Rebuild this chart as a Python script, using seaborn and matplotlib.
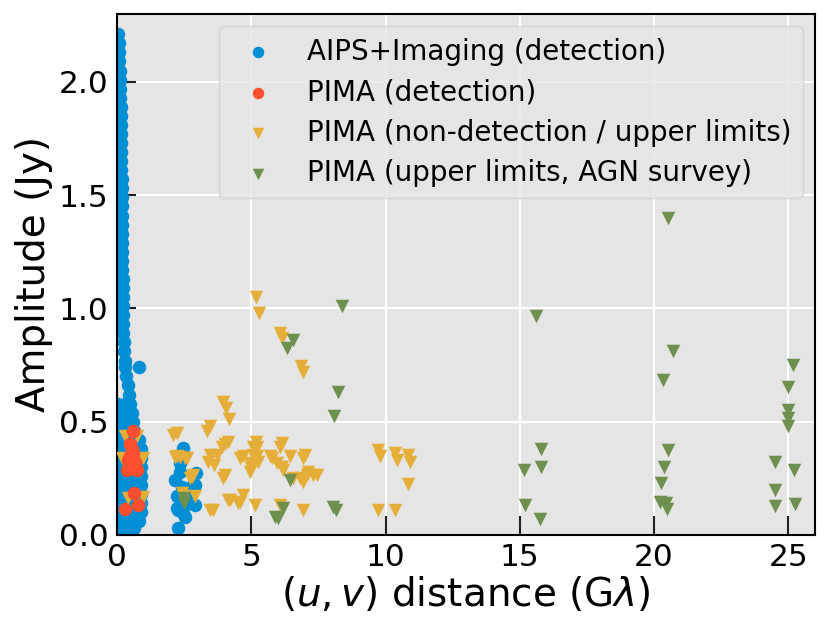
import matplotlib
matplotlib.use("Agg")
import matplotlib.pyplot as plt
import seaborn as sns

# ---------------- data ----------------
aips_x = [0.05, 0.07, 0.08, 0.09, 0.10, 0.11, 0.12, 0.12, 0.13, 0.13, 0.14, 0.14,
          0.15, 0.15, 0.16, 0.16, 0.17, 0.17, 0.18, 0.18, 0.18, 0.19, 0.19, 0.19,
          0.20, 0.20, 0.20, 0.21, 0.21, 0.21, 0.21, 0.22, 0.23, 0.24, 0.25, 0.26,
          0.28, 0.82, 0.30, 0.35, 0.40, 0.45,
          0.05, 0.30, 0.50, 0.05, 0.30, 0.55, 0.05, 0.30, 0.60, 0.05, 0.30, 0.65,
          0.05, 0.30, 0.55, 0.80, 0.05, 0.30, 0.55, 0.88, 0.05, 0.30, 0.55, 0.88,
          0.05, 0.30, 0.55, 0.88, 0.05, 0.30, 0.55, 0.88, 0.05, 0.30, 0.55, 0.88,
          0.05, 0.30, 0.55, 0.88, 0.05, 0.30, 0.55, 0.88, 0.05, 0.30, 0.55, 0.88,
          0.05, 0.30, 0.55, 0.82, 0.10, 0.40, 0.65,
          2.47, 2.35, 2.16, 2.96, 2.90, 2.22, 2.22, 2.90, 2.53, 2.28, 2.41, 2.35,
          2.27, 2.72, 2.70, 2.47, 2.83]
aips_y = [2.21, 2.17, 2.13, 2.09, 2.05, 2.01, 1.97, 1.93, 1.89, 1.85, 1.81, 1.77,
          1.73, 1.69, 1.65, 1.61, 1.57, 1.53, 1.49, 1.45, 1.41, 1.37, 1.33, 1.29,
          1.25, 1.21, 1.17, 1.13, 1.09, 1.05, 1.01, 0.97, 0.93, 0.89, 0.85, 0.81,
          0.77, 0.74, 0.74, 0.70, 0.66, 0.62,
          0.58, 0.58, 0.58, 0.54, 0.54, 0.54, 0.50, 0.50, 0.50, 0.46, 0.46, 0.46,
          0.42, 0.42, 0.42, 0.42, 0.38, 0.38, 0.38, 0.38, 0.34, 0.34, 0.34, 0.34,
          0.30, 0.30, 0.30, 0.30, 0.26, 0.26, 0.26, 0.26, 0.22, 0.22, 0.22, 0.22,
          0.18, 0.18, 0.18, 0.18, 0.14, 0.14, 0.14, 0.14, 0.10, 0.10, 0.10, 0.10,
          0.06, 0.06, 0.06, 0.06, 0.03, 0.03, 0.03,
          0.383, 0.28, 0.243, 0.273, 0.22, 0.17, 0.118, 0.133, 0.081, 0.03, 0.214, 0.318,
          0.11, 0.17, 0.14, 0.096, 0.22]

pima_det_x = [0.58, 0.48, 0.61, 0.42, 0.67, 0.36, 0.76, 0.63, 0.30, 0.79, 0.55, 0.55, 0.50]
pima_det_y = [0.457, 0.40, 0.362, 0.332, 0.324, 0.288, 0.288, 0.187, 0.114, 0.133, 0.38, 0.31, 0.35]

pima_ul_x = [5.17, 5.30, 6.07, 6.15, 6.87, 6.93, 3.96, 4.06, 4.17, 3.46, 3.34, 2.22, 2.09,
             0.30, 0.73, 4.02, 4.13, 3.90, 5.16, 5.20, 5.05, 6.13, 6.07,
             0.17, 0.98, 2.22, 2.35, 2.60, 3.46, 3.71, 3.39, 3.60, 4.70, 5.07, 5.20,
             5.26, 5.00, 4.96, 5.69, 5.94, 6.13, 6.20, 7.00, 6.93, 6.56, 6.80, 7.06,
             7.30, 6.93, 7.10, 7.45, 4.02, 3.96, 2.83, 2.72, 4.96, 4.58, 5.76, 6.44,
             2.16, 2.53, 2.78,
             0.41, 0.97, 2.41, 2.46, 2.90, 4.13, 4.58, 4.70, 5.14, 3.58, 3.45, 6.07,
             6.93, 4.20, 4.50,
             9.72, 9.79, 10.35, 10.41, 10.83, 10.90, 10.83, 9.72, 10.35]
pima_ul_y = [1.05, 0.98, 0.89, 0.87, 0.745, 0.72, 0.585, 0.56, 0.513, 0.48, 0.46, 0.45, 0.443,
             0.435, 0.435, 0.40, 0.41, 0.39, 0.41, 0.39, 0.39, 0.405, 0.39,
             0.34, 0.34, 0.347, 0.345, 0.34, 0.354, 0.354, 0.324, 0.31, 0.347, 0.354, 0.347,
             0.324, 0.295, 0.28, 0.347, 0.318, 0.30, 0.288, 0.354, 0.34, 0.25, 0.25, 0.265,
             0.265, 0.236, 0.28, 0.265, 0.265, 0.25, 0.265, 0.25, 0.318, 0.34, 0.34, 0.347,
             0.345, 0.34, 0.258,
             0.163, 0.168, 0.185, 0.17, 0.17, 0.155, 0.147, 0.177, 0.133, 0.11, 0.11, 0.133,
             0.11, 0.155, 0.14,
             0.376, 0.347, 0.36, 0.33, 0.354, 0.32, 0.226, 0.11, 0.11]

agn_x = [2.49, 2.50, 6.54, 6.33, 6.44, 6.18, 5.88, 6.00, 8.37, 8.23, 8.08, 8.04, 8.15,
         15.60, 15.80, 15.80, 15.16, 15.18, 15.77,
         20.54, 20.70, 20.33, 20.54, 20.36, 20.27, 20.23, 20.43, 20.48,
         25.17, 24.98, 24.98, 24.98, 24.98, 24.49, 25.20, 24.49, 24.49, 25.25]
agn_y = [0.163, 0.14, 0.862, 0.826, 0.243, 0.12, 0.081, 0.075, 1.01, 0.63, 0.527, 0.125, 0.11,
         0.966, 0.38, 0.30, 0.285, 0.133, 0.069,
         1.40, 0.81, 0.686, 0.376, 0.30, 0.229, 0.147, 0.14, 0.113,
         0.752, 0.653, 0.553, 0.516, 0.48, 0.324, 0.285, 0.20, 0.128, 0.137]

labels = ["AIPS+Imaging (detection)", "PIMA (detection)",
          "PIMA (non-detection / upper limits)", "PIMA (upper limits, AGN survey)"]
colors = ["#008fd5", "#fc4f30", "#e5ae38", "#6d904f"]

# ---------------- style ----------------
sns.set_style("darkgrid", {"axes.facecolor": "#e5e5e5", "grid.color": "white",
                           "axes.edgecolor": "black", "text.color": "black",
                           "axes.labelcolor": "black", "xtick.color": "black",
                           "ytick.color": "black"})
plt.rcParams["font.family"] = ["DejaVu Sans"]
plt.rcParams["mathtext.fontset"] = "dejavusans"

fig = plt.figure(figsize=(8.3, 6.32), dpi=100)
ax = fig.add_axes([0.141, 0.1535, 0.841, 0.8245])

S = 95
sns.scatterplot(x=aips_x, y=aips_y, ax=ax, color=colors[0], marker="o", s=S,
                linewidth=0, label=labels[0], zorder=2)
sns.scatterplot(x=pima_ul_x, y=pima_ul_y, ax=ax, color=colors[2], marker="v", s=S,
                linewidth=0, label=labels[2], zorder=3)
sns.scatterplot(x=agn_x, y=agn_y, ax=ax, color=colors[3], marker="v", s=S,
                linewidth=0, label=labels[3], zorder=4)
sns.scatterplot(x=pima_det_x, y=pima_det_y, ax=ax, color=colors[1], marker="o", s=S,
                linewidth=0, label=labels[1], zorder=5)

ax.set_xlim(0, 26)
ax.set_ylim(0, 2.3)
ax.set_xticks([0, 5, 10, 15, 20, 25])
ax.set_yticks([0.0, 0.5, 1.0, 1.5, 2.0])
ax.set_yticklabels(["0.0", "0.5", "1.0", "1.5", "2.0"])
ax.grid(True, color="white", linewidth=1.5)
for sp in ax.spines.values():
    sp.set_color("black")
    sp.set_linewidth(1.5)
ax.tick_params(axis="both", which="major", direction="in", length=14, width=1.5,
               labelsize=22.5, pad=6, color="#222222", labelcolor="black",
               left=True, bottom=True)

ax.set_xlabel(r"$(u, v)$ distance (G$\lambda$)", fontsize=28, labelpad=2)
ax.set_ylabel("Amplitude (Jy)", fontsize=28, labelpad=4)

h, l = ax.get_legend_handles_labels()
order = [l.index(t) for t in labels]
leg = ax.legend([h[i] for i in order], [l[i] for i in order], loc="upper right",
                fontsize=20, markerscale=0.85, handlelength=2.03, handletextpad=0.73,
                labelspacing=0.45, borderaxespad=0.45,
                frameon=True, facecolor="#e5e5e5", edgecolor="#d0d0d0", framealpha=0.8)

fig.savefig("out.png", dpi=100)
